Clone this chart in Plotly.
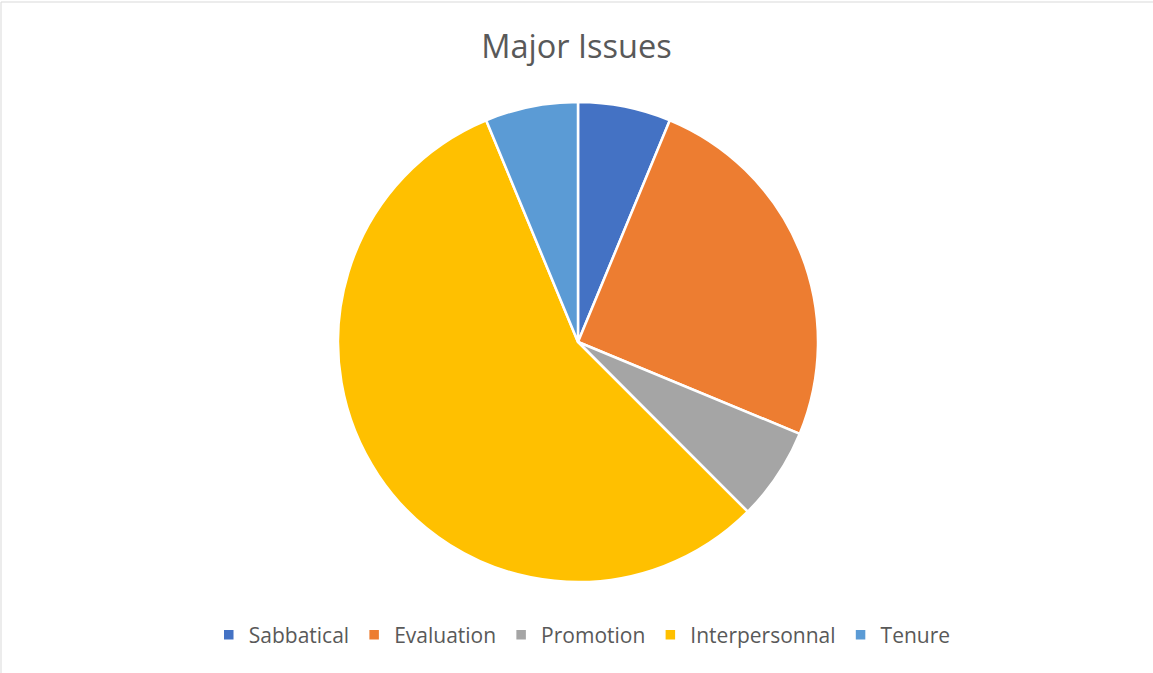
import plotly.graph_objects as go

categories = ["Sabbatical", "Evaluation", "Promotion", "Interpersonnal", "Tenure"]
values = [1, 4, 1, 9, 1]
colors = ["#4472C4", "#ED7D31", "#A5A5A5", "#FFC000", "#5B9BD5"]

W, H = 1153, 673
cx, cy, r = 578, 342, 240

fig = go.Figure(go.Pie(
    labels=categories,
    values=values,
    sort=False,
    direction="clockwise",
    rotation=0,
    textinfo="none",
    hoverinfo="label+value+percent",
    marker=dict(colors=colors, line=dict(color="white", width=2.5)),
    domain=dict(x=[(cx - r) / W, (cx + r) / W], y=[(H - cy - r) / H, (H - cy + r) / H]),
))

fig.update_layout(
    width=W, height=H,
    margin=dict(l=0, r=0, t=0, b=0),
    paper_bgcolor="white",
    font=dict(family="Open Sans, DejaVu Sans, sans-serif", color="#595959"),
    title=dict(text="Major Issues", x=0.5, xanchor="center", y=1 - 47 / H, yanchor="middle",
               font=dict(size=32.5, color="#595959")),
    showlegend=True,
    legend=dict(orientation="h", x=0.505, xanchor="center", y=(H - 635) / H, yanchor="middle",
                font=dict(size=21, color="#595959"), itemwidth=30, traceorder="normal"),
    shapes=[dict(type="rect", xref="paper", yref="paper", x0=1 / W, x1=1.01, y0=-0.01, y1=1 - 2 / H,
                 line=dict(color="#D9D9D9", width=1))],
)

fig.write_html("out.html")
